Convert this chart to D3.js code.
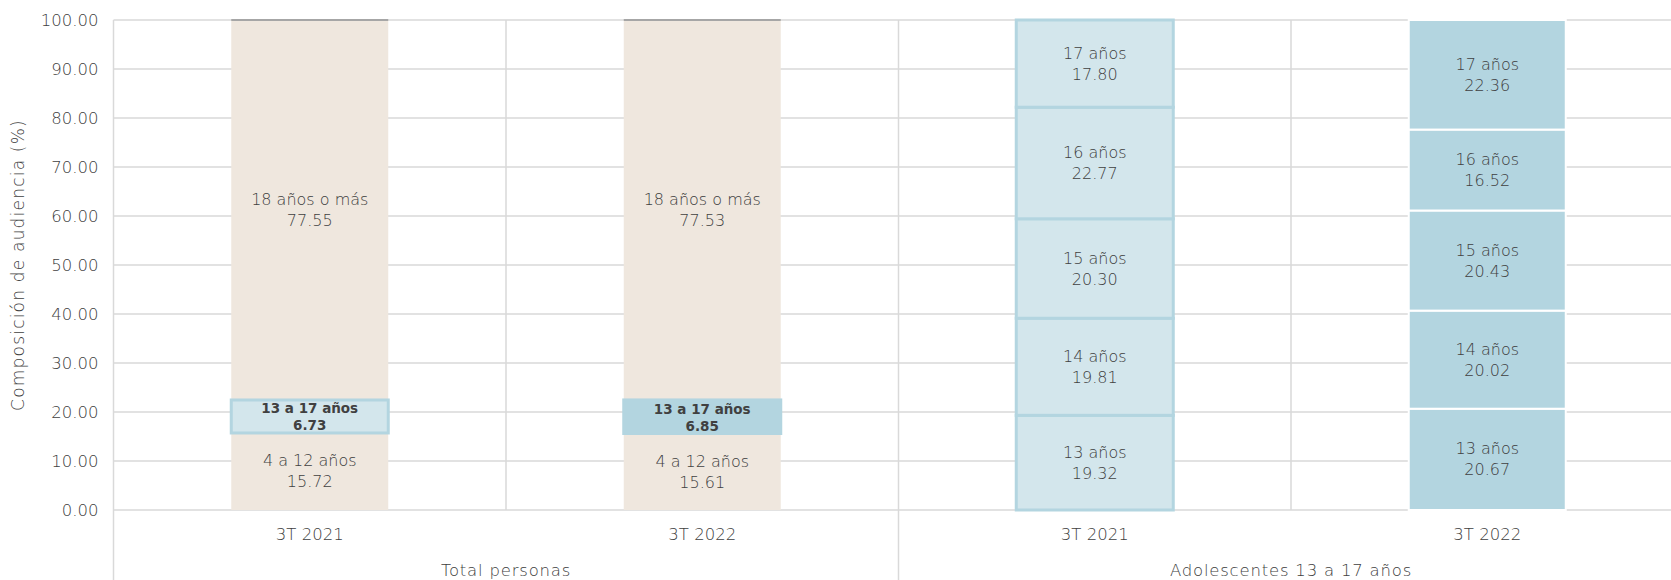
<!DOCTYPE html>
<html>
<head>
<meta charset="utf-8">
<script src="https://cdn.jsdelivr.net/npm/d3@7"></script>
<style>
  body { margin: 0; background: #fff; }
  text { font-family: "DejaVu Sans", sans-serif; }
</style>
</head>
<body>
<div id="chart"></div>
<script>
// data
const categories = ["3T 2021", "3T 2022", "3T 2021", "3T 2022"];
const groups = ["Total personas", "Adolescentes 13 a 17 años"];
const totalSegments = ["4 a 12 años", "13 a 17 años", "18 años o más"];
const total2021 = [15.72, 6.73, 77.55];
const total2022 = [15.61, 6.85, 77.53];
const adolSegments = ["13 años", "14 años", "15 años", "16 años", "17 años"];
const adol2021 = [19.32, 19.81, 20.30, 22.77, 17.80];
const adol2022 = [20.67, 20.02, 20.43, 16.52, 22.36];
const yTicks = [0, 10, 20, 30, 40, 50, 60, 70, 80, 90, 100];

const width = 1671;
const height = 580;
const margin = {left: 113.5, right: -12.5, top: 20, bottom: 70};

const svg = d3.select("#chart")
    .append("svg")
    .attr("width", width)
    .attr("height", height);

const x = d3.scaleBand()
    .domain(d3.range(categories.length))
    .range([margin.left, width - margin.right])
    .padding(0);

const y = d3.scaleLinear()
    .domain([0, 100])
    .range([height - margin.bottom, margin.top]);

const barW = x.bandwidth() * 0.4;
const gridColor = "#d9d9d9";
const textColor = "#404040";
const lightW = 200;

// horizontal gridlines
svg.append("g")
    .selectAll("line")
    .data(yTicks)
    .join("line")
      .attr("x1", margin.left)
      .attr("x2", width)
      .attr("y1", d => y(d))
      .attr("y2", d => y(d))
      .attr("stroke", gridColor)
      .attr("stroke-width", 1.5);

// vertical separators: category ones stop at 0, group ones go down through labels
const seps = [
  {i: 0, full: true},
  {i: 1, full: false},
  {i: 2, full: true},
  {i: 3, full: false}
];
svg.append("g")
    .selectAll("line")
    .data(seps)
    .join("line")
      .attr("x1", d => x(d.i))
      .attr("x2", d => x(d.i))
      .attr("y1", y(100))
      .attr("y2", d => d.full ? height : y(0))
      .attr("stroke", gridColor)
      .attr("stroke-width", 1.5);

// y axis labels
svg.append("g")
    .attr("transform", `translate(${margin.left}, 0)`)
    .call(d3.axisLeft(y).tickValues(yTicks).tickSize(0).tickPadding(15).tickFormat(d3.format(".2f")))
    .call(g => g.select(".domain").remove())
    .selectAll("text")
      .attr("font-family", "DejaVu Sans, sans-serif")
      .attr("font-size", 16.5)
      .attr("font-weight", lightW)
      .attr("fill", textColor);

svg.append("text")
    .attr("transform", `translate(24, ${(y(0) + y(100)) / 2}) rotate(-90)`)
    .attr("text-anchor", "middle")
    .attr("font-size", 17)
    .attr("font-weight", lightW)
    .attr("letter-spacing", 1.2)
    .attr("fill", textColor)
    .text("Composición de audiencia (%)");

// build stacks
function stack(values, names, catIndex, styleFn) {
  let acc = 0;
  return values.map((v, k) => {
    const s = {name: names[k], value: v, y0: acc, y1: acc + v, cat: catIndex, k: k};
    acc += v;
    return Object.assign(s, styleFn(k));
  });
}

const beige = "#efe7de";
const lightBlue = "#d3e6ec";
const blue = "#b3d5e0";

const segs = [].concat(
  stack(total2021, totalSegments, 0, k => k === 1
    ? {fill: lightBlue, stroke: blue, sw: 3, bold: true}
    : {fill: beige, stroke: "none", sw: 0, bold: false}),
  stack(total2022, totalSegments, 1, k => k === 1
    ? {fill: blue, stroke: blue, sw: 3, bold: true}
    : {fill: beige, stroke: "none", sw: 0, bold: false}),
  stack(adol2021, adolSegments, 2, k => ({fill: lightBlue, stroke: blue, sw: 3, bold: false})),
  stack(adol2022, adolSegments, 3, k => ({fill: blue, stroke: "#fff", sw: 2, bold: false}))
);

// beige first, highlighted segments on top so their borders show
const order = segs.slice().sort((a, b) => (a.sw > 0) - (b.sw > 0));

svg.append("g")
    .selectAll("rect")
    .data(order)
    .join("rect")
      .attr("x", d => x(d.cat) + (x.bandwidth() - barW) / 2)
      .attr("width", barW)
      .attr("y", d => y(d.y1))
      .attr("height", d => y(d.y0) - y(d.y1))
      .attr("fill", d => d.fill)
      .attr("stroke", d => d.stroke)
      .attr("stroke-width", d => d.sw);

// grey cap on top of the total bars
svg.append("g")
    .selectAll("line")
    .data([0, 1])
    .join("line")
      .attr("x1", d => x(d) + (x.bandwidth() - barW) / 2)
      .attr("x2", d => x(d) + (x.bandwidth() + barW) / 2)
      .attr("y1", y(100))
      .attr("y2", y(100))
      .attr("stroke", "#a6a6a6")
      .attr("stroke-width", 2);

// segment labels
const labels = svg.append("g")
    .selectAll("text")
    .data(segs)
    .join("text")
      .attr("text-anchor", "middle")
      .attr("font-size", d => d.bold ? 13.5 : 16)
      .attr("font-weight", d => d.bold ? "bold" : lightW)
      .attr("fill", textColor)
      .attr("transform", d => `translate(${x(d.cat) + x.bandwidth() / 2}, ${y((d.y0 + d.y1) / 2)})`);

labels.append("tspan")
    .attr("x", 0)
    .attr("dy", d => d.bold ? -3 : -5)
    .text(d => d.name);
labels.append("tspan")
    .attr("x", 0)
    .attr("dy", d => d.bold ? 17 : 21)
    .text(d => d3.format(".2f")(d.value));

// category labels
svg.append("g")
    .selectAll("text")
    .data(categories)
    .join("text")
      .attr("x", (d, i) => x(i) + x.bandwidth() / 2)
      .attr("y", y(0) + 30)
      .attr("text-anchor", "middle")
      .attr("font-size", 16.5)
      .attr("font-weight", lightW)
      .attr("fill", textColor)
      .text(d => d);

// group labels
svg.append("g")
    .selectAll("text")
    .data(groups)
    .join("text")
      .attr("x", (d, i) => x(i * 2) + x.bandwidth())
      .attr("y", y(0) + 66)
      .attr("text-anchor", "middle")
      .attr("font-size", 16.5)
      .attr("font-weight", lightW)
      .attr("letter-spacing", 0.8)
      .attr("fill", textColor)
      .text(d => d);
</script>
</body>
</html>
